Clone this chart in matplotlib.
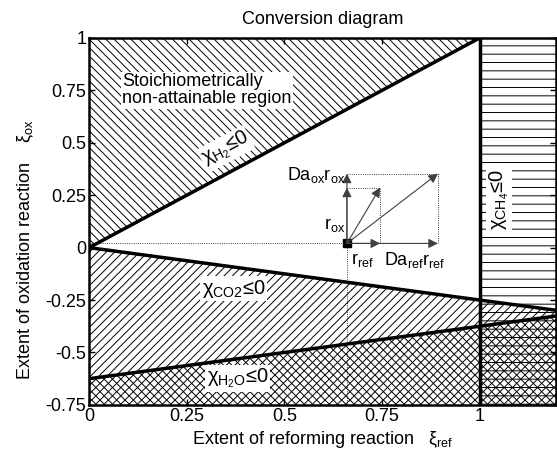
import matplotlib
matplotlib.use('Agg')
import matplotlib.pyplot as plt
import numpy as np

plt.rcParams['font.family'] = ['Liberation Sans', 'DejaVu Sans']
plt.rcParams['mathtext.fontset'] = 'custom'
plt.rcParams['mathtext.rm'] = 'Liberation Sans'
plt.rcParams['mathtext.it'] = 'Liberation Sans'
plt.rcParams['hatch.linewidth'] = 0.7

# boundary lines (xi_ref -> xi_ox)
x_edge = [0.0, 1.2]
h2_x = [0.0, 1.0]
h2_y = [0.0, 1.0]
co2_y = [0.0, -0.3]
h2o_y = [-0.625, -0.325]
x_ch4 = 1.0

# operating point and rate vectors
pt = (0.66, 0.02)
r_ref_end = 0.745
da_ref_end = 0.893
r_ox_end = 0.286
da_ox_end = 0.353

xticks = [0, 0.25, 0.5, 0.75, 1]
yticks = [-0.75, -0.5, -0.25, 0, 0.25, 0.5, 0.75, 1]
xlim = (0, 1.195)
ylim = (-0.75, 1)

fig = plt.figure(figsize=(5.57, 4.57), dpi=100)
ax = fig.add_axes([0.160, 0.114, 0.838, 0.803])

# hatched regions
ax.fill([0, 1, 0], [0, 1, 1], facecolor='none', edgecolor='k', hatch='\\\\\\\\', lw=0)
xs = np.array(x_edge)
ax.fill_between(xs, ylim[0], co2_y, facecolor='none', edgecolor='k', hatch='////', lw=0)
ax.fill_between(xs, ylim[0], h2o_y, facecolor='none', edgecolor='k', hatch='\\\\\\\\', lw=0)
ax.fill_between([x_ch4, xlim[1]], ylim[0], ylim[1], facecolor='none', edgecolor='k', hatch='--', lw=0)

# boundaries
ax.plot(h2_x, h2_y, 'k-', lw=2.5)
ax.plot(x_edge, co2_y, 'k-', lw=2.5)
ax.plot(x_edge, h2o_y, 'k-', lw=2.5)
ax.plot([x_ch4, x_ch4], ylim, 'k-', lw=2.5)

# dotted guides
dot = dict(color='k', lw=0.6, ls=':')
ax.plot([0, pt[0]], [pt[1], pt[1]], **dot)
ax.plot([pt[0], pt[0]], [ylim[0], pt[1]], **dot)
ax.plot([pt[0], r_ref_end, r_ref_end], [r_ox_end, r_ox_end, pt[1]], **dot)
ax.plot([pt[0], da_ref_end, da_ref_end], [da_ox_end, da_ox_end, pt[1]], **dot)

# arrows
arr = dict(arrowstyle='-|>', color='0.25', lw=0.8, mutation_scale=14, shrinkA=0, shrinkB=0)
for end in [(r_ref_end, pt[1]), (da_ref_end, pt[1]), (pt[0], r_ox_end), (pt[0], da_ox_end),
            (r_ref_end, r_ox_end), (da_ref_end, da_ox_end)]:
    ax.annotate('', xy=end, xytext=pt, arrowprops=arr)
ax.plot(*pt, 's', color='k', ms=6)

fs = 13
ax.text(pt[0] - 0.005, 0.11, r'r$_{\rm ox}$', fontsize=fs, ha='right', va='center')
ax.text(pt[0] - 0.005, 0.345, r'Da$_{\rm ox}$r$_{\rm ox}$', fontsize=fs, ha='right', va='center')
ax.text(pt[0] + 0.01, -0.06, r'r$_{\rm ref}$', fontsize=fs, ha='left', va='center')
ax.text(0.755, -0.06, r'Da$_{\rm ref}$r$_{\rm ref}$', fontsize=fs, ha='left', va='center')

wbox = dict(facecolor='white', edgecolor='none', pad=1)
ax.text(0.085, 0.75, 'Stoichiometrically\nnon-attainable region', fontsize=fs,
        ha='left', va='center', linespacing=1.0, bbox=wbox)
fs2 = 14.5
ax.text(0.35, 0.47, r'$\chi_{\rm H_2}$≤0', fontsize=fs2, rotation=28,
        ha='center', va='center', rotation_mode='anchor', bbox=wbox)
ax.text(0.37, -0.195, r'$\chi_{\rm CO2}$≤0', fontsize=fs2, ha='center', va='center', bbox=wbox)
ax.text(0.38, -0.625, r'$\chi_{\rm H_2O}$≤0', fontsize=fs2, ha='center', va='center', bbox=wbox)
ax.text(1.05, 0.23, r'$\chi_{\rm CH_4}$≤0', fontsize=fs2, rotation=90,
        ha='center', va='center', bbox=wbox)

ax.set_xlim(*xlim)
ax.set_ylim(*ylim)
ax.set_xticks(xticks)
ax.set_xticklabels(['0', '0.25', '0.5', '0.75', '1'])
ax.set_yticks(yticks)
ax.set_yticklabels(['-0.75', '-0.5', '-0.25', '0', '0.25', '0.5', '0.75', '1'])
ax.tick_params(direction='in', top=True, right=True, labelsize=fs, length=4, width=1, pad=2)
for s in ax.spines.values():
    s.set_linewidth(1.8)

ax.set_title('Conversion diagram', fontsize=fs, pad=10)
ax.set_xlabel(r'Extent of reforming reaction   $\xi_{\rm ref}$', fontsize=fs, labelpad=3)
ax.set_ylabel(r'Extent of oxidation reaction    $\xi_{\rm ox}$', fontsize=fs)
ax.yaxis.set_label_coords(-0.114, 0.423)

fig.savefig('out.png', dpi=100)
